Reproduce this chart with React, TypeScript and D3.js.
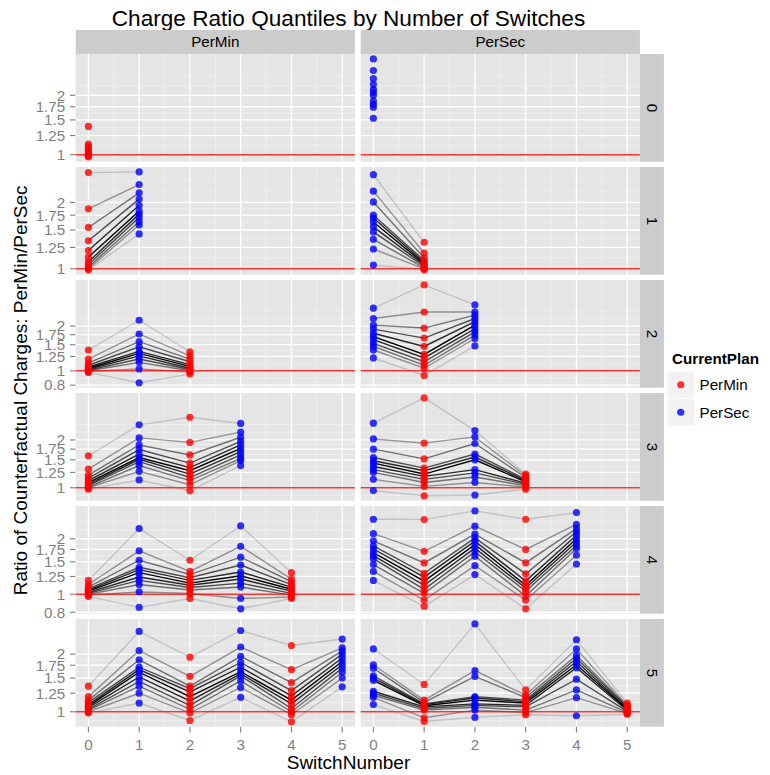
import React, { useEffect, useRef } from 'react';
import * as d3 from 'd3';

// facets
const plans = ['PerMin', 'PerSec'];
const switchCounts = [0, 1, 2, 3, 4, 5];
const xTicks = [0, 1, 2, 3, 4, 5];
const yBreaks = [0.8, 1, 1.25, 1.5, 1.75, 2];

// charge ratio quantiles (0, 0.1, ... 1) at each switch number, one array per position
const perMin0 = [
  [0.975, 0.985, 0.995, 1.005, 1.015, 1.03, 1.05, 1.07, 1.1, 1.13, 1.39],
];
const perSec0 = [
  [1.53, 1.74, 1.8, 1.87, 2.0, 2.07, 2.14, 2.27, 2.43, 2.67, 3.06],
];
const perMin1 = [
  [0.99, 1.0, 1.02, 1.046, 1.075, 1.13, 1.21, 1.34, 1.54, 1.87, 2.73],
  [1.44, 1.58, 1.64, 1.71, 1.77, 1.83, 1.94, 2.07, 2.21, 2.41, 2.75],
];
const perSec1 = [
  [1.04, 1.23, 1.36, 1.47, 1.55, 1.63, 1.7, 1.75, 2.01, 2.25, 2.67],
  [0.99, 1.0, 1.01, 1.025, 1.04, 1.055, 1.07, 1.09, 1.12, 1.18, 1.32],
];
const perMin2 = [
  [0.975, 0.99, 1.0, 1.01, 1.025, 1.04, 1.06, 1.09, 1.13, 1.2, 1.38],
  [0.83, 1.03, 1.14, 1.2, 1.26, 1.31, 1.35, 1.45, 1.57, 1.77, 2.19],
  [0.95, 0.98, 1.0, 1.02, 1.04, 1.07, 1.1, 1.15, 1.2, 1.26, 1.34],
];
const perSec2 = [
  [1.22, 1.38, 1.46, 1.53, 1.62, 1.7, 1.79, 1.91, 2.03, 2.25, 2.64],
  [0.93, 1.04, 1.09, 1.15, 1.22, 1.29, 1.46, 1.66, 1.94, 2.49, 3.79],
  [1.47, 1.65, 1.74, 1.83, 1.92, 2.03, 2.14, 2.25, 2.37, 2.49, 2.78],
];
const perMin3 = [
  [0.98, 1.0, 1.01, 1.03, 1.05, 1.076, 1.11, 1.15, 1.2, 1.31, 1.59],
  [1.12, 1.27, 1.38, 1.46, 1.51, 1.55, 1.63, 1.74, 1.86, 2.06, 2.49],
  [0.957, 1.045, 1.11, 1.16, 1.22, 1.28, 1.34, 1.43, 1.61, 1.93, 2.78],
  [1.38, 1.48, 1.53, 1.61, 1.69, 1.77, 1.86, 1.96, 2.08, 2.24, 2.54],
];
const perSec3 = [
  [0.96, 1.13, 1.25, 1.3, 1.36, 1.43, 1.48, 1.55, 1.75, 2.03, 2.55],
  [0.89, 1.02, 1.08, 1.13, 1.18, 1.22, 1.28, 1.33, 1.52, 1.91, 3.68],
  [0.9, 1.08, 1.17, 1.24, 1.3, 1.5, 1.56, 1.63, 1.9, 2.09, 2.29],
  [0.98, 1.01, 1.03, 1.05, 1.07, 1.09, 1.11, 1.13, 1.16, 1.19, 1.22],
];
const perMin4 = [
  [0.975, 0.99, 1.0, 1.012, 1.025, 1.04, 1.055, 1.07, 1.095, 1.13, 1.19],
  [0.85, 1.03, 1.13, 1.19, 1.24, 1.31, 1.36, 1.4, 1.53, 1.72, 2.27],
  [0.95, 1.01, 1.055, 1.09, 1.12, 1.15, 1.19, 1.23, 1.28, 1.33, 1.53],
  [0.835, 0.95, 1.095, 1.15, 1.21, 1.26, 1.32, 1.44, 1.59, 1.82, 2.35],
  [0.95, 0.967, 0.99, 1.012, 1.04, 1.065, 1.095, 1.13, 1.17, 1.21, 1.31],
];
const perSec4 = [
  [1.19, 1.33, 1.45, 1.56, 1.62, 1.68, 1.76, 1.83, 1.95, 2.13, 2.55],
  [0.86, 0.93, 1.012, 1.065, 1.12, 1.18, 1.24, 1.3, 1.48, 1.71, 2.54],
  [1.28, 1.43, 1.61, 1.7, 1.78, 1.86, 1.94, 2.02, 2.12, 2.34, 2.83],
  [0.835, 0.93, 0.98, 1.04, 1.08, 1.12, 1.18, 1.29, 1.48, 1.75, 2.55],
  [1.46, 1.63, 1.77, 1.84, 1.92, 2.0, 2.09, 2.18, 2.27, 2.39, 2.77],
];
const perMin5 = [
  [0.984, 1.0, 1.016, 1.03, 1.05, 1.07, 1.09, 1.12, 1.15, 1.2, 1.36],
  [1.11, 1.25, 1.36, 1.44, 1.52, 1.61, 1.66, 1.71, 1.87, 2.09, 2.63],
  [0.9, 0.984, 1.03, 1.08, 1.14, 1.2, 1.27, 1.32, 1.36, 1.53, 1.93],
  [1.19, 1.34, 1.45, 1.54, 1.58, 1.62, 1.71, 1.81, 1.95, 2.18, 2.66],
  [0.886, 0.965, 1.0, 1.04, 1.1, 1.15, 1.21, 1.29, 1.42, 1.66, 2.22],
  [1.35, 1.5, 1.61, 1.69, 1.76, 1.83, 1.91, 2.0, 2.08, 2.16, 2.4],
];
const perSec5 = [
  [1.09, 1.19, 1.22, 1.25, 1.28, 1.46, 1.5, 1.54, 1.69, 1.76, 2.13],
  [0.89, 0.93, 1.02, 1.04, 1.06, 1.075, 1.09, 1.1, 1.12, 1.15, 1.39],
  [0.934, 1.02, 1.055, 1.08, 1.1, 1.15, 1.18, 1.2, 1.53, 1.64, 2.88],
  [0.965, 0.99, 1.02, 1.06, 1.08, 1.11, 1.13, 1.15, 1.185, 1.22, 1.3],
  [0.953, 1.185, 1.3, 1.48, 1.7, 1.76, 1.83, 1.9, 1.97, 2.13, 2.38],
  [0.97, 0.98, 0.992, 1.005, 1.016, 1.03, 1.04, 1.055, 1.067, 1.08, 1.11],
];

const panelData: Record<string, number[][][]> = {
  PerMin: [perMin0, perMin1, perMin2, perMin3, perMin4, perMin5],
  PerSec: [perSec0, perSec1, perSec2, perSec3, perSec4, perSec5],
};

const planColor: Record<string, string> = { PerMin: '#FF0000', PerSec: '#0000FF' };
const FONT = '"Liberation Sans", Arial, Helvetica, sans-serif';

// ggplot-style minor breaks in transformed (ln) space
function minorBreaks(major: number[], lo: number, hi: number) {
  const b = major.slice();
  if (b.length < 2) return [];
  const bd = b[1] - b[0];
  if (lo < b[0]) b.unshift(b[0] - bd);
  if (hi > b[b.length - 1]) b.push(b[b.length - 1] + bd);
  const out: number[] = [];
  for (let i = 0; i < b.length - 1; i++) out.push(b[i], (b[i] + b[i + 1]) / 2);
  out.push(b[b.length - 1]);
  return out.filter(v => v >= lo && v <= hi);
}

const App = () => {
  const svgRef = useRef<SVGSVGElement>(null);

  useEffect(() => {
    const svg = d3.select(svgRef.current);
    svg.selectAll('*').remove();

    const width = 770, height = 775;
    const panelLeft = [75.7, 360.7];
    const panelW = 279.2;
    const top0 = 54, pitch = 113, panelH = 107.7;
    const stripH = 24, stripW = 24;
    const small = '15.2px';
    const plotCenter = 348.5; // title + x label centred on the plot without legend

    svg.append('rect').attr('width', width).attr('height', height).attr('fill', '#fff');

    const x = (col: number) => d3.scaleLinear().domain([-0.25, 5.25]).range([panelLeft[col], panelLeft[col] + panelW]);

    // title
    svg.append('text')
      .attr('x', plotCenter).attr('y', 26)
      .attr('text-anchor', 'middle')
      .style('font-family', FONT).style('font-size', '22.6px')
      .text('Charge Ratio Quantiles by Number of Switches');

    // top strips
    plans.forEach((p, c) => {
      svg.append('rect')
        .attr('x', panelLeft[c]).attr('y', top0 - stripH)
        .attr('width', panelW).attr('height', stripH)
        .attr('fill', '#CCCCCC');
      svg.append('text')
        .attr('x', panelLeft[c] + panelW / 2).attr('y', top0 - stripH / 2 + 5.3)
        .attr('text-anchor', 'middle')
        .style('font-family', FONT).style('font-size', small)
        .text(p);
    });

    const lineOpacity = (i: number) => {
      const d = Math.abs(i - 5);
      return [1, 0.84, 0.68, 0.52, 0.38, 0.16][d];
    };

    switchCounts.forEach((n, r) => {
      const pTop = top0 + r * pitch;
      const pBot = pTop + panelH;

      const all = plans.flatMap(p => panelData[p][r].flat());
      const lo = Math.log(d3.min(all) as number), hi = Math.log(d3.max(all) as number);
      const pad = (hi - lo) * 0.05;
      const y = d3.scaleLog().domain([Math.exp(lo - pad), Math.exp(hi + pad)]).range([pBot, pTop]);
      const [dLo, dHi] = [lo - pad, hi + pad];
      const majors = yBreaks.filter(b => Math.log(b) >= dLo && Math.log(b) <= dHi);
      const minors = minorBreaks(majors.map(Math.log), dLo, dHi).map(Math.exp);

      // right strip
      const sx = panelLeft[1] + panelW;
      svg.append('rect')
        .attr('x', sx).attr('y', pTop).attr('width', stripW).attr('height', panelH)
        .attr('fill', '#CCCCCC');
      svg.append('text')
        .attr('transform', `translate(${sx + stripW / 2 - 5.3},${pTop + panelH / 2}) rotate(90)`)
        .attr('text-anchor', 'middle')
        .style('font-family', FONT).style('font-size', small)
        .text(String(n));

      // y axis ticks + labels (left column only)
      const yAxis = svg.append('g');
      majors.forEach(b => {
        yAxis.append('line')
          .attr('x1', panelLeft[0] - 5.7).attr('x2', panelLeft[0])
          .attr('y1', y(b)).attr('y2', y(b))
          .attr('stroke', '#7F7F7F').attr('stroke-width', 1.1);
        yAxis.append('text')
          .attr('x', panelLeft[0] - 10.5).attr('y', y(b) + 5.3)
          .attr('text-anchor', 'end')
          .style('font-family', FONT).style('font-size', small)
          .attr('fill', '#7F7F7F')
          .text(String(b));
      });

      plans.forEach((p, c) => {
        const xs = x(c);
        const g = svg.append('g');
        const values = panelData[p][r];

        g.append('rect')
          .attr('x', panelLeft[c]).attr('y', pTop).attr('width', panelW).attr('height', panelH)
          .attr('fill', '#E5E5E5');

        // minor grid
        minors.forEach(m => {
          g.append('line')
            .attr('x1', panelLeft[c]).attr('x2', panelLeft[c] + panelW)
            .attr('y1', y(m)).attr('y2', y(m))
            .attr('stroke', '#F2F2F2').attr('stroke-width', 0.7);
        });
        [0.5, 1.5, 2.5, 3.5, 4.5].forEach(m => {
          g.append('line')
            .attr('x1', xs(m)).attr('x2', xs(m))
            .attr('y1', pTop).attr('y2', pBot)
            .attr('stroke', '#F2F2F2').attr('stroke-width', 0.7);
        });
        // major grid
        majors.forEach(b => {
          g.append('line')
            .attr('x1', panelLeft[c]).attr('x2', panelLeft[c] + panelW)
            .attr('y1', y(b)).attr('y2', y(b))
            .attr('stroke', '#fff').attr('stroke-width', 1.3);
        });
        xTicks.forEach(t => {
          g.append('line')
            .attr('x1', xs(t)).attr('x2', xs(t))
            .attr('y1', pTop).attr('y2', pBot)
            .attr('stroke', '#fff').attr('stroke-width', 1.3);
        });

        // quantile lines
        const line = d3.line<number>()
          .x((_, k) => xs(k))
          .y(v => y(v));
        d3.range(11).forEach(i => {
          const series = values.map(pos => pos[i]);
          if (series.length < 2) return;
          g.append('path')
            .attr('d', line(series))
            .attr('fill', 'none')
            .attr('stroke', '#000')
            .attr('stroke-opacity', lineOpacity(i))
            .attr('stroke-width', 1.4);
        });

        // reference line at ratio 1
        g.append('line')
          .attr('x1', panelLeft[c]).attr('x2', panelLeft[c] + panelW)
          .attr('y1', y(1)).attr('y2', y(1))
          .attr('stroke', '#FF0000').attr('stroke-opacity', 0.8)
          .attr('stroke-width', 1.5);

        // points
        values.forEach((pos, k) => {
          const plan = (k % 2 === 0) === (p === 'PerMin') ? 'PerMin' : 'PerSec';
          pos.forEach(v => {
            g.append('circle')
              .attr('cx', xs(k)).attr('cy', y(v)).attr('r', 3.6)
              .attr('fill', planColor[plan]).attr('fill-opacity', 0.8);
          });
        });

        // x axis (bottom row)
        if (r === switchCounts.length - 1) {
          xTicks.forEach(t => {
            svg.append('line')
              .attr('x1', xs(t)).attr('x2', xs(t))
              .attr('y1', pBot).attr('y2', pBot + 5.7)
              .attr('stroke', '#7F7F7F').attr('stroke-width', 1.1);
            svg.append('text')
              .attr('x', xs(t)).attr('y', pBot + 23.5)
              .attr('text-anchor', 'middle')
              .style('font-family', FONT).style('font-size', small)
              .attr('fill', '#7F7F7F')
              .text(String(t));
          });
        }
      });
    });

    // axis titles
    svg.append('text')
      .attr('x', plotCenter).attr('y', 769)
      .attr('text-anchor', 'middle')
      .style('font-family', FONT).style('font-size', '19px')
      .text('SwitchNumber');
    svg.append('text')
      .attr('transform', `translate(27,${top0 + (5 * pitch + panelH) / 2}) rotate(-90)`)
      .attr('text-anchor', 'middle')
      .style('font-family', FONT).style('font-size', '19px')
      .text('Ratio of Counterfactual Charges: PerMin/PerSec');

    // legend
    const keySize = 27.5;
    const lg = svg.append('g').attr('transform', 'translate(667,0)');
    lg.append('text')
      .attr('x', 5).attr('y', 363.5)
      .style('font-family', FONT).style('font-size', small).style('font-weight', 'bold')
      .text('CurrentPlan');
    plans.forEach((p, i) => {
      const ky = 371 + i * keySize;
      lg.append('rect')
        .attr('x', 0).attr('y', ky).attr('width', keySize).attr('height', keySize)
        .attr('fill', '#F2F2F2').attr('stroke', '#fff').attr('stroke-width', 1);
      lg.append('circle')
        .attr('cx', keySize / 2).attr('cy', ky + keySize / 2).attr('r', 3.6)
        .attr('fill', planColor[p]).attr('fill-opacity', 0.8);
      lg.append('text')
        .attr('x', keySize + 5).attr('y', ky + keySize / 2 + 5.3)
        .style('font-family', FONT).style('font-size', small)
        .text(p);
    });
  }, []);

  return <svg ref={svgRef} width={770} height={775} style={{ display: 'block', position: 'absolute', left: 0, top: 0 }} />;
};

export default App;
